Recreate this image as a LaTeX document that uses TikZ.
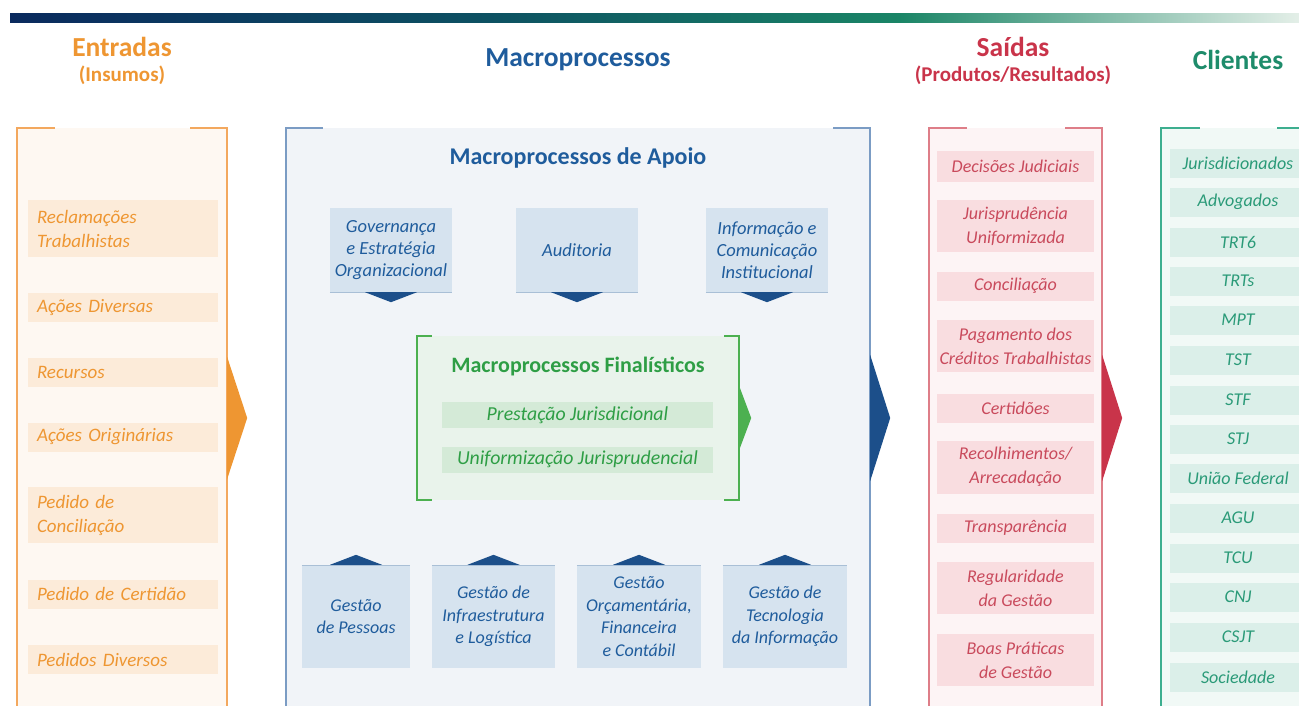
\documentclass[tikz,border=0pt]{standalone}
\usepackage{fontspec}
\setmainfont{Carlito}
\usetikzlibrary{positioning}

\definecolor{barnavy}{HTML}{0A2A5E}
\definecolor{barteal}{HTML}{0D5262}
\definecolor{bargreen}{HTML}{1A8566}
\definecolor{barpale}{HTML}{E4EFE8}
\definecolor{entorange}{HTML}{EE9632}
\definecolor{entline}{HTML}{F3A85E}
\definecolor{entbg}{HTML}{FEF8F2}
\definecolor{entfill}{HTML}{FCEBD9}
\definecolor{macblue}{HTML}{1F5C9C}
\definecolor{macdark}{HTML}{1C4F8A}
\definecolor{macline}{HTML}{7B9CC4}
\definecolor{macbg}{HTML}{F1F4F8}
\definecolor{apfill}{HTML}{D6E3EF}
\definecolor{apline}{HTML}{A9BFD6}
\definecolor{fingreen}{HTML}{2E9E45}
\definecolor{finline}{HTML}{4CB050}
\definecolor{finbg}{HTML}{E9F3EB}
\definecolor{finfill}{HTML}{D4EAD7}
\definecolor{saired}{HTML}{C9344A}
\definecolor{saitext}{HTML}{C94A5C}
\definecolor{sailine}{HTML}{DE7E88}
\definecolor{saibg}{HTML}{FDF4F5}
\definecolor{saifill}{HTML}{F9DDE0}
\definecolor{cliteal}{HTML}{1E8C6B}
\definecolor{clitext}{HTML}{2A9A78}
\definecolor{cliline}{HTML}{3DAE8F}
\definecolor{clibg}{HTML}{F1F9F6}
\definecolor{clifill}{HTML}{DBEFE9}

\newcommand{\headtxt}{\fontsize{27.5}{30}\selectfont\bfseries}
\newcommand{\subtxt}{\fontsize{21}{24}\selectfont\bfseries}
\newcommand{\itemtxt}{\fontsize{19}{24}\selectfont\itshape}
\newcommand{\boxtxt}{\fontsize{18.5}{22}\selectfont\itshape}
\newcommand{\smalltxt}{\fontsize{18}{24}\selectfont\itshape}

\tikzset{
  frame/.style={inner sep=0pt, minimum height=580pt},
  entitem/.style={fill=entfill, text=entorange, font=\itemtxt, text width=172pt,
    align=left, inner xsep=9pt, inner ysep=0pt, minimum height=29pt},
  apoiobox/.style={fill=apfill, text=macblue, font=\boxtxt, align=center,
    inner sep=0pt, minimum width=122pt, minimum height=84pt},
  gestbox/.style={fill=apfill, text=macblue, font=\fontsize{18}{22.5}\selectfont\itshape,
    align=center, inner sep=0pt, minimum height=103pt},
  finitem/.style={fill=finfill, text=fingreen, font=\fontsize{19.8}{22}\selectfont\itshape,
    inner sep=0pt, minimum width=271pt, minimum height=26pt},
  saiitem/.style={fill=saifill, text=saitext, font=\smalltxt, align=center,
    inner sep=0pt, minimum width=157pt, minimum height=29pt},
  cliitem/.style={fill=clifill, text=clitext, font=\smalltxt,
    inner sep=0pt, minimum width=136pt, minimum height=29pt},
  border/.style={line width=2pt}
}

\begin{document}
\begin{tikzpicture}[x=1pt,y=-1pt]
\useasboundingbox (0,0) rectangle (1299,705);
\clip (0,0) rectangle (1299,705);
% top bar
\shade [left color=barnavy, right color=barteal] (10,13) rectangle (500,22);
\shade [left color=barteal, right color=bargreen] (499,13) rectangle (900,22);
\shade [left color=bargreen, right color=barpale] (899,13) rectangle (1299,22);

% headers
\node [font=\headtxt, text=entorange] (enthead) at (122,47) {Entradas};
\node [font=\subtxt, text=entorange] (entsub) at (122,75) {(Insumos)};
\node [font=\headtxt, text=macblue] (machead) at (578,60) {Macroprocessos};
\node [font=\headtxt, text=saired] (saihead) at (1013,47) {Saídas};
\node [font=\subtxt, text=saired] (saisub) at (1013,75) {(Produtos/Resultados)};
\node [font=\headtxt, text=cliteal] (clihead) at (1238,60) {Clientes};

% entradas
\node [frame, fill=entbg, minimum width=210pt] (ent) at (122,418) {};
\draw [border, entline] ([xshift=38pt]ent.north west) -| (ent.south west);
\draw [border, entline] ([xshift=-37pt]ent.north east) -| (ent.south east);
\fill [entorange] ([yshift=61pt]ent.east) -- ([xshift=20pt]ent.east) -- ([yshift=-61pt]ent.east) -- cycle;
\node [entitem, minimum height=57pt] (e1) at (123,228.5) {Reclamações\\Trabalhistas};
\node [entitem] (e2) at (123,307.5) {Ações Diversas};
\node [entitem] (e3) at (123,372.5) {Recursos};
\node [entitem] (e4) at (123,437) {Ações Originárias};
\node [entitem, minimum height=56pt] (e5) at (123,515) {Pedido de\\Conciliação};
\node [entitem] (e6) at (123,594) {Pedido de Certidão};
\node [entitem] (e7) at (123,659.5) {Pedidos Diversos};

% macroprocessos
\node [frame, fill=macbg, minimum width=584pt] (mac) at (578,418) {};
\draw [border, macline] ([xshift=37pt]mac.north west) -| (mac.south west);
\draw [border, macline] ([xshift=-37pt]mac.north east) -| (mac.south east);
\fill [macdark] ([yshift=63pt]mac.east) -- ([xshift=20pt]mac.east) -- ([yshift=-63pt]mac.east) -- cycle;
\node [font=\fontsize{24}{28}\selectfont\bfseries, text=macblue] (apoio) at (578,158) {Macroprocessos de Apoio};

\node [apoiobox] (gov) at (391,250) {Governança\\e Estratégia\\Organizacional};
\node [apoiobox] (aud) at (577,250) {Auditoria};
\node [apoiobox] (inf) at (767,250) {Informação e\\Comunicação\\Institucional};
\draw [apline] (gov.south west) -- (gov.south east);
\draw [apline] (aud.south west) -- (aud.south east);
\draw [apline] (inf.south west) -- (inf.south east);
\fill [macdark] ([xshift=-26pt]gov.south) -- ([xshift=26pt]gov.south) -- ([yshift=-10pt]gov.south) -- cycle;
\fill [macdark] ([xshift=-26pt]aud.south) -- ([xshift=26pt]aud.south) -- ([yshift=-10pt]aud.south) -- cycle;
\fill [macdark] ([xshift=-26pt]inf.south) -- ([xshift=26pt]inf.south) -- ([yshift=-10pt]inf.south) -- cycle;

% finalisticos
\node [inner sep=0pt, fill=finbg, minimum width=322pt, minimum height=164pt] (fin) at (578,418) {};
\draw [border, finline] ([xshift=15pt]fin.north west) -- (fin.north west) -- (fin.south west) -- ([xshift=15pt]fin.south west);
\draw [border, finline] ([xshift=-15pt]fin.north east) -- (fin.north east) -- (fin.south east) -- ([xshift=-15pt]fin.south east);
\fill [finline] ([yshift=32pt]fin.east) -- ([xshift=12pt]fin.east) -- ([yshift=-32pt]fin.east) -- cycle;
\node [font=\fontsize{22}{26}\selectfont\bfseries, text=fingreen] (fintitle) at (578,366) {Macroprocessos Finalísticos};
\node [finitem] (pj) at (577.5,415) {Prestação Jurisdicional};
\node [finitem] (uj) at (577.5,459.5) {Uniformização Jurisprudencial};

\node [gestbox, minimum width=108pt] (pes) at (356,616.5) {Gestão\\de Pessoas};
\node [gestbox, minimum width=123pt] (log) at (493.5,616.5) {Gestão de\\Infraestrutura\\e Logística};
\node [gestbox, minimum width=124pt] (orc) at (639,616.5) {Gestão\\Orçamentária,\\Financeira\\e Contábil};
\node [gestbox, minimum width=124pt] (tec) at (785,616.5) {Gestão de\\Tecnologia\\da Informação};
\draw [apline] (pes.north west) -- (pes.north east);
\draw [apline] (log.north west) -- (log.north east);
\draw [apline] (orc.north west) -- (orc.north east);
\draw [apline] (tec.north west) -- (tec.north east);
\fill [macdark] ([xshift=-26pt]pes.north) -- ([xshift=26pt]pes.north) -- ([yshift=10pt]pes.north) -- cycle;
\fill [macdark] ([xshift=-26pt]log.north) -- ([xshift=26pt]log.north) -- ([yshift=10pt]log.north) -- cycle;
\fill [macdark] ([xshift=-26pt]orc.north) -- ([xshift=26pt]orc.north) -- ([yshift=10pt]orc.north) -- cycle;
\fill [macdark] ([xshift=-26pt]tec.north) -- ([xshift=26pt]tec.north) -- ([yshift=10pt]tec.north) -- cycle;

% saidas
\node [frame, fill=saibg, minimum width=173pt] (sai) at (1015.5,418) {};
\draw [border, sailine] ([xshift=38pt]sai.north west) -| (sai.south west);
\draw [border, sailine] ([xshift=-37pt]sai.north east) -| (sai.south east);
\fill [saired] ([yshift=63pt]sai.east) -- ([xshift=20pt]sai.east) -- ([yshift=-63pt]sai.east) -- cycle;
\node [saiitem, minimum height=31pt] (s1) at (1015.5,166) {Decisões Judiciais};
\node [saiitem, minimum height=52pt] (s2) at (1015.5,226) {Jurisprudência\\Uniformizada};
\node [saiitem] (s3) at (1015.5,286) {Conciliação};
\node [saiitem, minimum height=52pt] (s4) at (1015.5,346) {Pagamento dos\\Créditos Trabalhistas};
\node [saiitem] (s5) at (1015.5,408) {Certidões};
\node [saiitem, minimum height=53pt] (s6) at (1015.5,467) {Recolhimentos/\\Arrecadação};
\node [saiitem] (s7) at (1015.5,528) {Transparência};
\node [saiitem, minimum height=52pt] (s8) at (1015.5,588) {Regularidade\\da Gestão};
\node [saiitem, minimum height=52pt] (s9) at (1015.5,660) {Boas Práticas\\de Gestão};

% clientes
\node [frame, fill=clibg, minimum width=179pt] (cli) at (1250.5,418) {};
\draw [border, cliline] ([xshift=39pt]cli.north west) -| (cli.south west);
\draw [border, cliline] ([xshift=-63pt]cli.north east) -| (cli.south east);
\node [cliitem] (c1) at (1238,163) {Jurisdicionados};
\node [cliitem] (c2) at (1238,202) {Advogados};
\node [cliitem] (c3) at (1238,242) {TRT6};
\node [cliitem] (c4) at (1238,281) {TRTs};
\node [cliitem] (c5) at (1238,320) {MPT};
\node [cliitem] (c6) at (1238,360) {TST};
\node [cliitem] (c7) at (1238,400) {STF};
\node [cliitem] (c8) at (1238,439) {STJ};
\node [cliitem] (c9) at (1238,478) {União Federal};
\node [cliitem] (c10) at (1238,518) {AGU};
\node [cliitem] (c11) at (1238,558) {TCU};
\node [cliitem] (c12) at (1238,597) {CNJ};
\node [cliitem] (c13) at (1238,637) {CSJT};
\node [cliitem] (c14) at (1238,677) {Sociedade};
\end{tikzpicture}
\end{document}
